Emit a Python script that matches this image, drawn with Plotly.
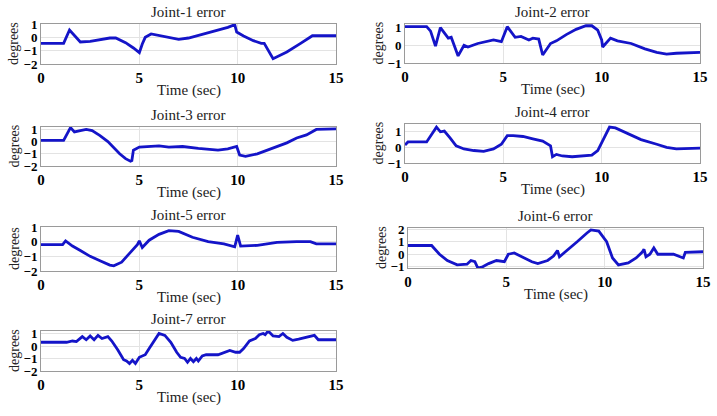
import plotly.graph_objects as go

# ---- data ----
t1 = [0, 1.15, 1.45, 2.0, 2.5, 3.0, 3.5, 3.8, 4.3, 4.7, 5.0, 5.15, 5.3, 5.6, 6.0, 6.5, 7.0, 7.5, 8.0, 8.5, 9.0, 9.5, 9.85, 9.95, 10.3, 10.8, 11.2, 11.35, 11.8, 12.5, 13.2, 13.8, 15]
e1 = [-0.45, -0.45, 0.55, -0.35, -0.3, -0.15, -0.05, -0.05, -0.4, -0.8, -1.15, -0.5, 0.0, 0.25, 0.15, 0.0, -0.15, -0.05, 0.15, 0.35, 0.55, 0.75, 0.95, 0.4, 0.1, -0.25, -0.45, -0.45, -1.6, -1.1, -0.45, 0.12, 0.12]

t2 = [0, 1.1, 1.3, 1.55, 1.8, 2.0, 2.2, 2.35, 2.7, 3.0, 3.2, 3.7, 4.2, 4.5, 4.9, 5.2, 5.6, 5.9, 6.3, 6.5, 6.8, 7.0, 7.4, 7.7, 8.2, 8.7, 9.2, 9.5, 9.8, 10.0, 10.05, 10.2, 10.45, 10.8, 11.5, 12.2, 12.8, 13.3, 13.8, 15]
e2 = [1.05, 1.05, 0.8, -0.05, 1.0, 0.7, 0.4, 0.45, -0.6, 0.0, -0.1, 0.1, 0.25, 0.3, 0.2, 1.05, 0.45, 0.5, 0.3, 0.4, 0.35, -0.55, 0.1, 0.25, 0.6, 0.9, 1.1, 1.1, 0.85, 0.3, -0.1, 0.1, 0.4, 0.25, 0.1, -0.2, -0.4, -0.5, -0.45, -0.4]

t3 = [0, 1.15, 1.5, 1.7, 2.0, 2.3, 2.6, 3.0, 3.4, 3.7, 4.0, 4.3, 4.55, 4.62, 4.7, 5.0, 5.5, 6.0, 6.5, 7.2, 8.0, 9.0, 9.5, 9.95, 10.1, 10.4, 11.0, 11.7, 12.5, 13.0, 13.5, 14.0, 15]
e3 = [0.1, 0.1, 1.15, 0.8, 0.9, 1.0, 0.9, 0.5, 0.0, -0.5, -1.0, -1.4, -1.6, -1.55, -0.7, -0.45, -0.4, -0.35, -0.45, -0.4, -0.55, -0.7, -0.6, -0.4, -1.1, -1.2, -1.0, -0.6, -0.1, 0.3, 0.55, 1.0, 1.05]

t4 = [0, 0.15, 1.1, 1.6, 1.8, 2.0, 2.3, 2.6, 3.0, 3.5, 4.0, 4.5, 4.9, 5.2, 5.5, 6.0, 6.5, 7.0, 7.4, 7.5, 7.7, 8.0, 8.5, 9.5, 9.8, 10.1, 10.4, 10.7, 11.3, 12.0, 12.8, 13.3, 13.8, 15]
e4 = [0.15, 0.35, 0.35, 1.3, 1.0, 1.05, 0.6, 0.1, -0.1, -0.2, -0.25, -0.1, 0.2, 0.75, 0.75, 0.7, 0.55, 0.4, 0.1, -0.6, -0.45, -0.55, -0.6, -0.5, -0.2, 0.5, 1.3, 1.25, 0.9, 0.5, 0.2, 0.0, -0.1, -0.05]

t5 = [0, 1.1, 1.25, 1.6, 2.0, 2.5, 3.0, 3.5, 3.7, 4.1, 4.5, 4.9, 5.0, 5.15, 5.5, 6.0, 6.5, 7.0, 7.7, 8.5, 9.3, 9.85, 10.0, 10.15, 11.0, 12.0, 13.0, 13.7, 14.0, 15]
e5 = [-0.2, -0.2, 0.05, -0.3, -0.6, -1.0, -1.3, -1.6, -1.65, -1.4, -0.8, -0.2, 0.05, -0.4, 0.1, 0.5, 0.75, 0.7, 0.3, 0.0, -0.15, -0.35, 0.45, -0.3, -0.25, -0.05, 0.0, 0.0, -0.15, -0.15]

t6 = [0, 1.2, 1.6, 2.0, 2.5, 3.0, 3.2, 3.4, 3.55, 3.8, 4.1, 4.5, 4.9, 5.1, 5.4, 5.8, 6.3, 6.6, 7.1, 7.4, 7.6, 7.7, 8.1, 8.6, 9.1, 9.3, 9.7, 10.1, 10.4, 10.7, 11.2, 11.6, 11.9, 12.0, 12.1, 12.3, 12.5, 12.7, 13.5, 13.8, 14.0, 14.1, 15]
e6 = [0.7, 0.7, 0.0, -0.5, -0.85, -0.8, -0.5, -0.6, -1.1, -1.0, -0.75, -0.5, -0.6, 0.0, 0.1, -0.2, -0.6, -0.75, -0.5, -0.15, 0.3, -0.2, 0.3, 1.0, 1.7, 1.95, 1.85, 1.0, -0.3, -0.85, -0.7, -0.3, 0.15, 0.4, -0.2, 0.0, 0.5, 0.0, 0.0, -0.2, -0.3, 0.15, 0.2]

t7 = [0, 1.1, 1.3, 1.6, 1.8, 2.1, 2.3, 2.5, 2.7, 2.9, 3.1, 3.4, 3.6, 3.9, 4.2, 4.35, 4.5, 4.65, 4.8, 5.0, 5.3, 5.5, 5.8, 6.0, 6.3, 6.6, 6.9, 7.1, 7.3, 7.45, 7.6, 7.75, 7.9, 8.0, 8.2, 8.4, 9.0, 9.3, 9.6, 9.9, 10.1, 10.3, 10.6, 10.9, 11.1, 11.3, 11.4, 11.55, 11.8, 12.1, 12.3, 12.5, 12.8, 13.1, 13.4, 13.8, 13.9, 14.1, 15]
e7 = [0.3, 0.3, 0.3, 0.4, 0.35, 0.75, 0.5, 0.8, 0.5, 0.85, 0.6, 0.75, 0.4, -0.3, -1.1, -1.2, -1.4, -1.15, -1.4, -0.9, -0.7, -0.2, 0.5, 1.0, 0.85, 0.3, -0.5, -0.9, -1.0, -1.3, -1.0, -1.25, -1.0, -1.2, -0.8, -0.7, -0.7, -0.5, -0.35, -0.5, -0.5, -0.2, 0.4, 0.6, 0.9, 1.0, 0.9, 1.2, 0.8, 0.75, 1.0, 0.7, 0.45, 0.55, 0.65, 0.8, 0.85, 0.5, 0.5]

titles = ["Joint-1 error", "Joint-2 error", "Joint-3 error", "Joint-4 error",
          "Joint-5 error", "Joint-6 error", "Joint-7 error"]
x_ticks = [0, 5, 10, 15]
y_ticks = [[-2, -1, 0, 1], [-1, 0, 1], [-2, -1, 0, 1], [-1, 0, 1],
           [-2, -1, 0, 1], [-1, 0, 1, 2], [-2, -1, 0, 1]]
y_ranges = [[-2, 1], [-1, 1.2], [-2, 1.2], [-1, 1.5], [-2, 1], [-1.1, 2.1], [-2, 1.2]]
series_t = [t1, t2, t3, t4, t5, t6, t7]
series_e = [e1, e2, e3, e4, e5, e6, e7]

# ---- layout geometry (pixels) ----
W, H = 717, 416
cols = [(41, 336), (405, 700), (41, 336), (405, 700), (41, 336), (408, 703), (41, 336)]
rows = [(24, 64), (24, 63), (127, 166), (124, 163), (227, 271), (228, 268), (331, 371)]

SERIF = "Liberation Serif"
LINE = "#1414c8"

fig = go.Figure()
layout = dict(width=W, height=H, margin=dict(l=0, r=0, t=0, b=0, autoexpand=False),
              paper_bgcolor="white", plot_bgcolor="white", showlegend=False,
              annotations=[])

xtickfont = dict(family=SERIF, size=15, color="black", weight="bold")
ytickfont = dict(family=SERIF, size=13, color="black", weight="bold")
for i in range(7):
    k = "" if i == 0 else str(i + 1)
    fig.add_trace(go.Scatter(x=series_t[i], y=series_e[i], mode="lines",
                             line=dict(color=LINE, width=2.8),
                             xaxis="x" + k, yaxis="y" + k, hoverinfo="skip"))
    x0, x1 = cols[i]
    yt, yb = rows[i]
    xd = [x0 / W, x1 / W]
    yd = [1 - yb / H, 1 - yt / H]
    layout["xaxis" + k] = dict(domain=xd, anchor="y" + k, range=[0, 15], automargin=False,
                               tickvals=x_ticks, showgrid=True, gridcolor="#e3e3e3",
                               gridwidth=1, zeroline=False, showline=True, mirror=True,
                               linecolor="#9a9a9a", linewidth=1, ticks="",
                               tickfont=xtickfont)
    layout["yaxis" + k] = dict(domain=yd, anchor="x" + k, range=y_ranges[i], automargin=False,
                               tickvals=y_ticks[i], showgrid=True, gridcolor="#e3e3e3",
                               gridwidth=1, zeroline=False, showline=True, mirror=True,
                               linecolor="#9a9a9a", linewidth=1, ticks="",
                               tickfont=ytickfont)
    cx = (x0 + x1) / 2 / W
    layout["annotations"].append(dict(text=titles[i], x=cx, y=1 - (yt - 2) / H,
                                      xref="paper", yref="paper", xanchor="center",
                                      yanchor="bottom", showarrow=False,
                                      font=dict(family=SERIF, size=15, color="#222")))
    layout["annotations"].append(dict(text="Time (sec)", x=cx, y=1 - (yb + 26) / H,
                                      xref="paper", yref="paper", xanchor="center",
                                      yanchor="middle", showarrow=False,
                                      font=dict(family=SERIF, size=15, color="#222")))
    layout["annotations"].append(dict(text="degrees", x=(x0 - 27) / W, y=1 - (yt + yb) / 2 / H,
                                      xref="paper", yref="paper", xanchor="center",
                                      yanchor="middle", textangle=-90, showarrow=False,
                                      font=dict(family=SERIF, size=14, color="#222")))

fig.update_layout(**layout)
fig.write_html("out.html", config={"displayModeBar": False},
               post_script="document.body.style.margin='0';document.body.style.overflow='hidden';")
